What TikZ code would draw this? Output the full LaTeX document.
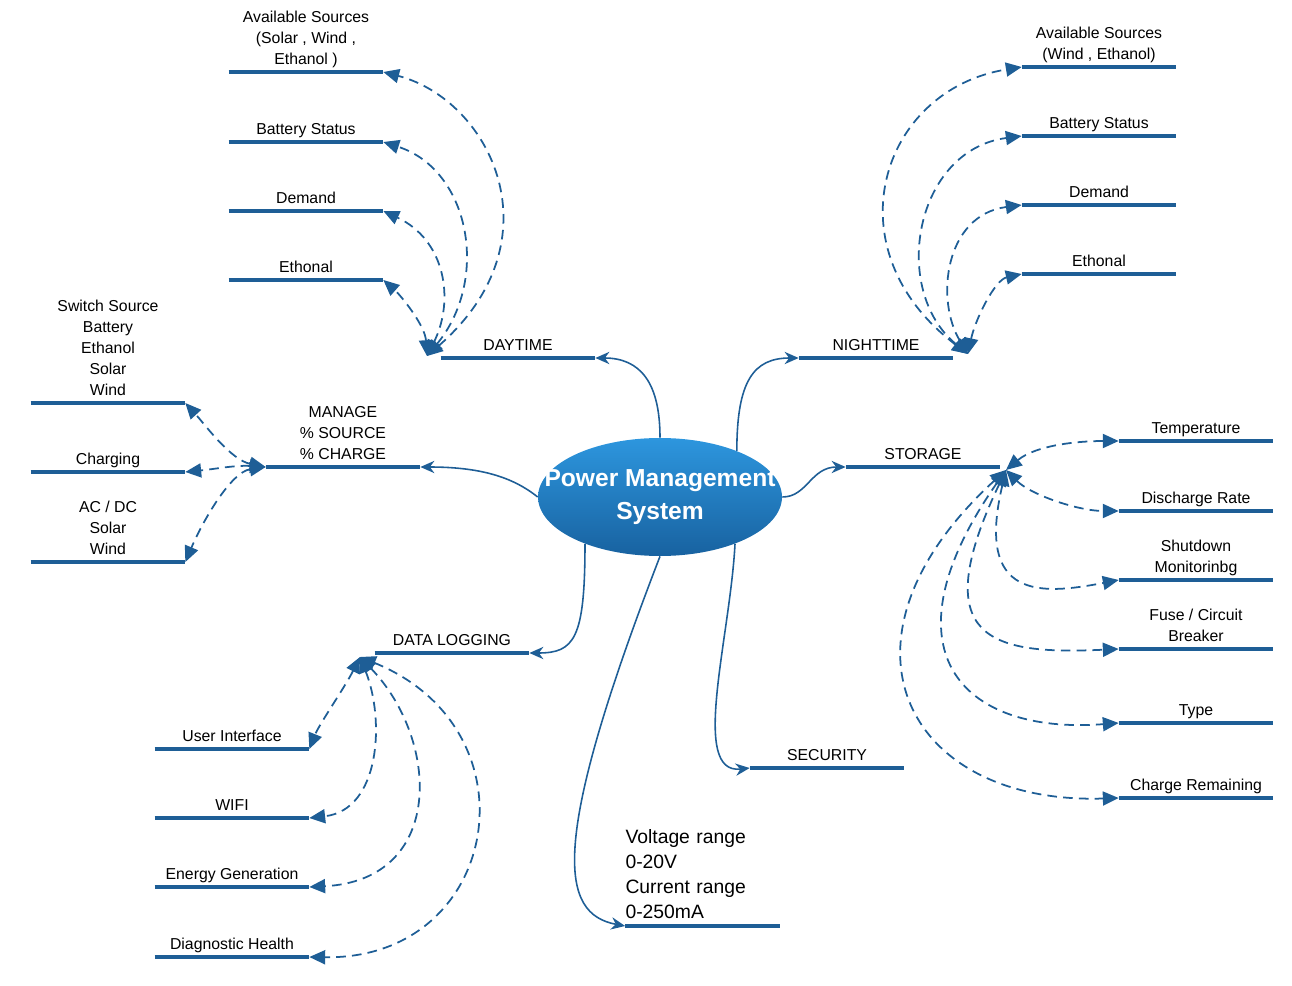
\documentclass[tikz,border=0pt]{standalone}
\usepackage{fontspec}
\setmainfont{Liberation Sans}
\usetikzlibrary{arrows.meta,shapes.geometric}
\definecolor{mapblue}{RGB}{30,94,150}
\definecolor{hubtop}{RGB}{45,150,222}
\definecolor{hubbottom}{RGB}{24,98,160}
\tikzset{
	topic/.style={anchor=south, minimum width=3.08cm, inner xsep=0pt, inner ysep=4pt, text depth=0pt, align=center, font=\fontsize{9}{11.9}\selectfont},
	bar/.style={draw=mapblue, line width=2.6pt},
	feed/.style={draw=mapblue, line width=0.9pt, -{Stealth[length=8pt,width=7pt]}},
	link/.style={draw=mapblue, line width=1pt, dash pattern=on 5.5pt off 3.5pt, arrows={Triangle[length=9pt,width=8pt]-Triangle[length=9pt,width=8pt]}},
}
\begin{document}
\begin{tikzpicture}[x=0.02cm, y=-0.02cm]
	\useasboundingbox (0,0) rectangle (1292,986);
	
	%centre
	\node[ellipse, minimum width=4.88cm, minimum height=2.36cm, inner sep=0pt, top color=hubtop, bottom color=hubbottom] (pms) at (660,497) {};
	\node[text=white, align=center, font=\bfseries\fontsize{14}{18.7}\selectfont] (pmstext) at (pms.center) {Power Management\\System};
	
	%daytime
	\node[topic] (day) at (518,358) {DAYTIME};
	\node[topic] (day1) at (306,72) {Available Sources\\(Solar , Wind ,\\Ethanol )};
	\node[topic] (day2) at (306,142) {Battery Status};
	\node[topic] (day3) at (306,211) {Demand};
	\node[topic] (day4) at (306,280) {Ethonal};
	\coordinate (dayhub) at (427,356);
	
	%nighttime
	\node[topic] (night) at (876,358) {NIGHTTIME};
	\node[topic] (night1) at (1099,67) {Available Sources\\(Wind , Ethanol)};
	\node[topic] (night2) at (1099,136) {Battery Status};
	\node[topic] (night3) at (1099,205) {Demand};
	\node[topic] (night4) at (1099,274) {Ethonal};
	\coordinate (nighthub) at (968,354);
	
	%manage
	\node[topic] (manage) at (343,467) {MANAGE\\\% SOURCE\\\% CHARGE};
	\node[topic] (manage1) at (108,403) {Switch Source\\Battery\\Ethanol\\Solar\\Wind};
	\node[topic] (manage2) at (108,472) {Charging};
	\node[topic] (manage3) at (108,562) {AC / DC\\Solar\\Wind};
	
	%storage
	\node[topic] (store) at (923,467) {STORAGE};
	\node[topic] (store1) at (1196,441) {Temperature};
	\node[topic] (store2) at (1196,511) {Discharge Rate};
	\node[topic] (store3) at (1196,580) {Shutdown\\Monitorinbg};
	\node[topic] (store4) at (1196,649) {Fuse / Circuit\\Breaker};
	\node[topic] (store5) at (1196,723) {Type};
	\node[topic] (store6) at (1196,798) {Charge Remaining};
	\coordinate (storehub) at (1006,470);
	
	%data logging
	\node[topic] (log) at (452,653) {DATA LOGGING};
	\node[topic] (log1) at (232,749) {User Interface};
	\node[topic] (log2) at (232,818) {WIFI};
	\node[topic] (log3) at (232,887) {Energy Generation};
	\node[topic] (log4) at (232,957) {Diagnostic Health};
	\coordinate (loghub) at (360,657);
	
	%security and ranges
	\node[topic] (secure) at (827,768) {SECURITY};
	\node[anchor=south, text width=3.08cm, inner xsep=0pt, inner ysep=4pt, align=left, font=\fontsize{11}{14.2}\selectfont] (range) at (702.5,926) {Voltage range\\0-20V\\Current range\\0-250mA};
	
	\foreach \n in {day,day1,day2,day3,day4,night,night1,night2,night3,night4,manage,manage1,manage2,manage3,store,store1,store2,store3,store4,store5,store6,log,log1,log2,log3,log4,secure,range}{
		\draw[bar] (\n.south west) -- (\n.south east);
	}
	
	%main branches
	\draw[feed] (pms.north) .. controls +(0,-55) and +(45,0) .. (day.south east);
	\draw[feed] (pms.31) .. controls +(0,-70) and +(-45,0) .. (night.south west);
	\draw[feed] (pms.west) .. controls +(-25,-20) and +(60,0) .. (manage.south east);
	\draw[feed] (pms.east) .. controls +(25,0) and +(-35,0) .. (store.south west);
	\draw[feed] (pms.212) .. controls +(0,95) and +(45,0) .. (log.south east);
	\draw[feed] (pms.328) .. controls +(-5,95) and +(-60,7) .. (secure.south west);
	\draw[feed] (pms.south) .. controls +(-112,290) and +(-65,-12) .. (range.south west);
	
	%dashed links
	\draw[link] (dayhub) .. controls +(133,-116) and +(107,28) .. (day1.south east);
	\draw[link] (dayhub) .. controls +(63,-76) and +(87,28) .. (day2.south east);
	\draw[link] (dayhub) .. controls +(28,-56) and +(62,29) .. (day3.south east);
	\draw[link] (dayhub) .. controls +(-2,-31) and +(17,15) .. (day4.south east);
	
	\draw[link] (nighthub) .. controls +(-138,-104) and +(-142,23) .. (night1.south west);
	\draw[link] (nighthub) .. controls +(-78,-64) and +(-107,14) .. (night2.south west);
	\draw[link] (nighthub) .. controls +(-33,-54) and +(-77,10) .. (night3.south west);
	\draw[link] (nighthub) .. controls +(7,-34) and +(-27,6) .. (night4.south west);
	
	\draw[link] (manage.south west) .. controls +(-35,-7) and +(20,22) .. (manage1.south east);
	\draw[link] (manage.south west) .. controls +(-30,-2) and +(30,-3) .. (manage2.south east);
	\draw[link] (manage.south west) .. controls +(-35,5) and +(17,-40) .. (manage3.south east);
	
	\draw[link] (storehub) .. controls +(30,-25) and +(-40,0) .. (store1.south west);
	\draw[link] (storehub) .. controls +(25,25) and +(-40,0) .. (store2.south west);
	\draw[link] (storehub) .. controls +(-31,130) and +(-78,15) .. (store3.south west);
	\draw[link] (storehub) .. controls +(-81,170) and +(-128,6) .. (store4.south west);
	\draw[link] (storehub) .. controls +(-126,180) and +(-158,12) .. (store5.south west);
	\draw[link] (storehub) .. controls +(-186,170) and +(-213,7) .. (store6.south west);
	
	\draw[link] (loghub) .. controls +(-15,30) and +(10,-25) .. (log1.south east);
	\draw[link] (loghub) .. controls +(25,63) and +(71,-8) .. (log2.south east);
	\draw[link] (loghub) .. controls +(80,83) and +(136,-7) .. (log3.south east);
	\draw[link] (loghub) .. controls +(180,73) and +(191,3) .. (log4.south east);
\end{tikzpicture}
\end{document}
